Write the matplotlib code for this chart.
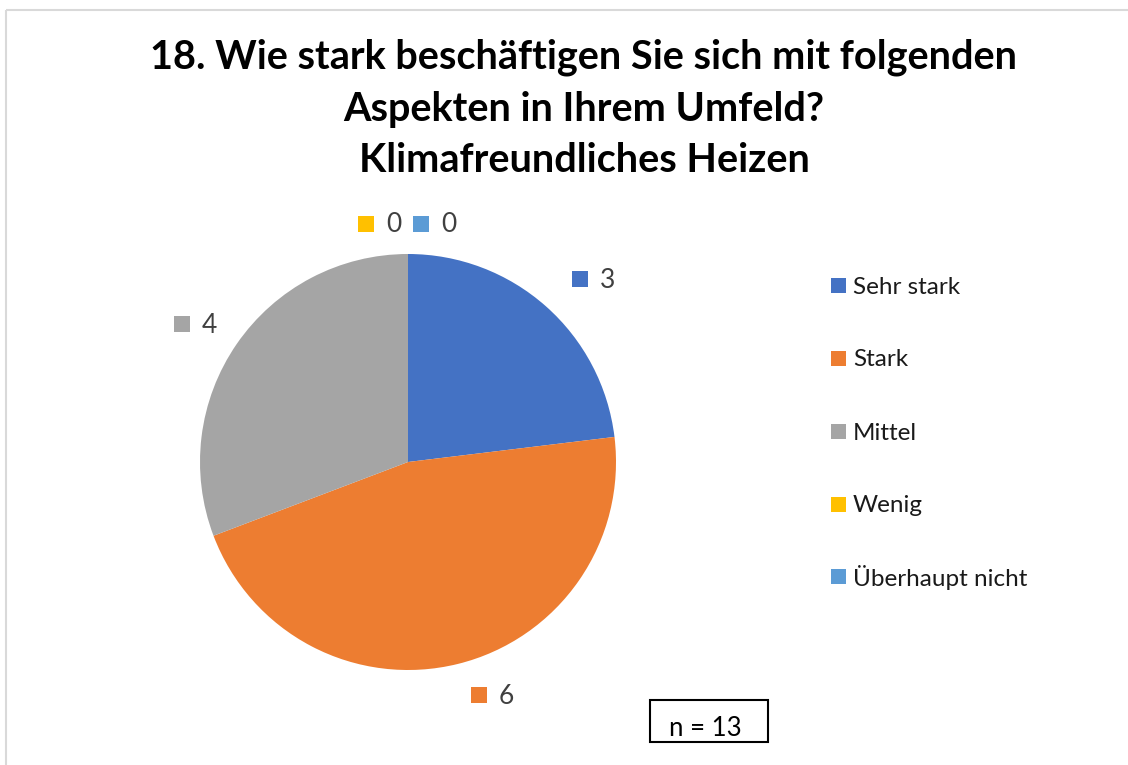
import matplotlib
matplotlib.use("Agg")
import matplotlib.pyplot as plt
from matplotlib.patches import Rectangle
from matplotlib.transforms import Affine2D

categories = ["Sehr stark", "Stark", "Mittel", "Wenig", "Überhaupt nicht"]
values = [3, 6, 4, 0, 0]
colors = ["#4472C4", "#ED7D31", "#A5A5A5", "#FFC000", "#5B9BD5"]
title = "18. Wie stark beschäftigen Sie sich mit folgenden\nAspekten in Ihrem Umfeld?\nKlimafreundliches Heizen"
note = "n = 13"

W, H = 1128, 765
plt.rcParams['font.family'] = ['Lato', 'DejaVu Sans']
fig = plt.figure(figsize=(W / 100, H / 100), dpi=100)

# pixel transform (origin top-left)
px = Affine2D().scale(1 / W, -1 / H).translate(0, 1) + fig.transFigure

# outer border
fig.add_artist(Rectangle((5.5, 9.5), W, H, transform=px, fill=False,
                         edgecolor="#D9D9D9", linewidth=1.5))

# title
fig.text(584 / W, 1 - 39 / H, title, ha="center", va="top", fontsize=28.5,
         fontweight="bold", color="#000000", linespacing=1.47)

# pie
cx, cy, r = 408, 462, 208
ax = fig.add_axes([(cx - r) / W, (H - cy - r) / H, 2 * r / W, 2 * r / H])
ax.pie(values, colors=colors, startangle=90, counterclock=False,
       wedgeprops=dict(linewidth=0))
ax.set_xlim(-1, 1)
ax.set_ylim(-1, 1)
ax.set_aspect("auto")
ax.axis("off")

# data labels (marker square + value)
label_pos = [(580, 279), (479, 695), (182, 324), (366, 224), (421, 224)]
for (x, y), v, c in zip(label_pos, values, colors):
    fig.add_artist(Rectangle((x - 8, y - 8), 16, 16, transform=px,
                             facecolor=c, edgecolor="none"))
    fig.text((x + 20) / W, 1 - (y + 1) / H, str(v),
             ha="left", va="center", fontsize=19, color="#404040")

# legend
leg_y = [286, 359, 432, 505, 577]
for y, name, c in zip(leg_y, categories, colors):
    fig.add_artist(Rectangle((838 - 7.5, y - 7.5), 15, 15, transform=px,
                             facecolor=c, edgecolor="none"))
    fig.text(853 / W, 1 - (y + 1) / H, name, ha="left", va="center",
             fontsize=17.5, color="#1a1a1a")

# n box
fig.add_artist(Rectangle((650, 700), 118, 42, transform=px, fill=False,
                         edgecolor="#000000", linewidth=1.5))
fig.text(705 / W, 1 - 729 / H, note, ha="center", va="center",
         fontsize=18.5, color="#000000")

fig.savefig("out.png", dpi=100)
